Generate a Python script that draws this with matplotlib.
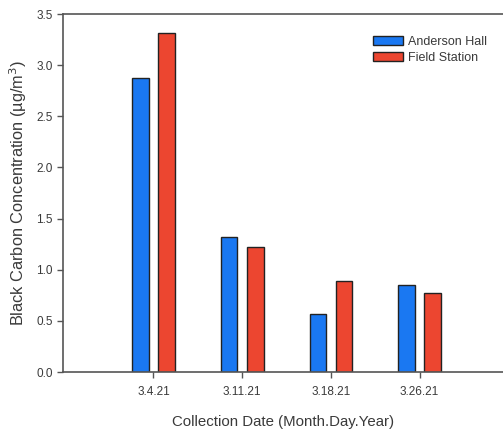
import numpy as np
import matplotlib.pyplot as plt

dates = ["3.4.21", "3.11.21", "3.18.21", "3.26.21"]
anderson_hall = [2.87, 1.32, 0.57, 0.85]
field_station = [3.31, 1.22, 0.89, 0.77]

plt.rcParams['font.family'] = ['Liberation Sans', 'DejaVu Sans']
text_color = '#3a3a3a'

fig = plt.figure(figsize=(5.03, 4.36), dpi=100)
ax = fig.add_axes([63 / 503, 1 - 372 / 436, 1 - 63 / 503, 358 / 436])

x = np.arange(len(dates))
w = 0.186
off = 0.148
ax.bar(x - off, anderson_hall, w, color='#1a78f2', edgecolor='#222222',
       linewidth=1.0, label='Anderson Hall')
ax.bar(x + off, field_station, w, color='#ec4630', edgecolor='#222222',
       linewidth=1.0, label='Field Station')

ax.set_xlim(-1.02, 3.94)
ax.set_ylim(0, 3.5)
ax.set_yticks(np.arange(0, 3.51, 0.5))
ax.set_yticklabels([f"{v:.1f}" for v in np.arange(0, 3.51, 0.5)])
ax.set_xticks(x)
ax.set_xticklabels(dates)

for s in ['left', 'bottom', 'top']:
    ax.spines[s].set_color('#555555')
    ax.spines[s].set_linewidth(1.2)
ax.spines['right'].set_visible(False)

ax.tick_params(axis='both', colors='#555555', labelcolor=text_color,
               labelsize=8.5, length=4, width=1.0)
ax.tick_params(axis='x', pad=6)

ax.set_xlabel("Collection Date (Month.Day.Year)", fontsize=10.8,
              color=text_color, labelpad=12)
ax.set_ylabel("Black Carbon Concentration (µg/m$^3$)", fontsize=11.8,
              color=text_color, labelpad=5)

leg = ax.legend(loc='upper left', bbox_to_anchor=(0.678, 0.97), frameon=False,
                fontsize=9, handlelength=2.4, handleheight=0.7,
                handletextpad=0.4, labelspacing=0.3)
for t in leg.get_texts():
    t.set_color(text_color)

fig.savefig("out.png", dpi=100)
